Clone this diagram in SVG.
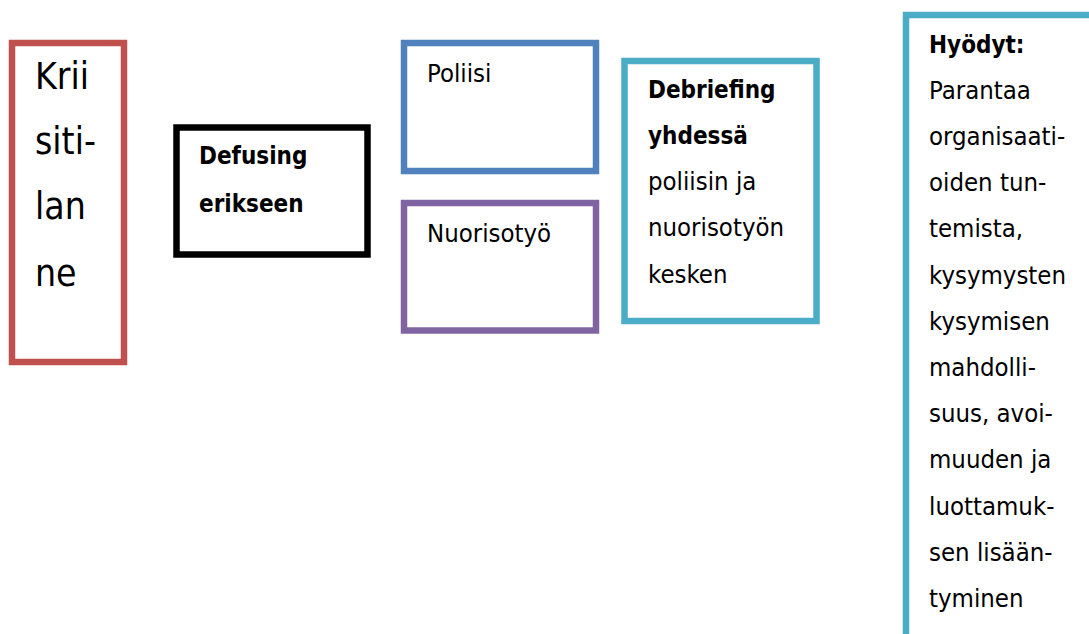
<svg xmlns="http://www.w3.org/2000/svg" width="1089" height="634" viewBox="0 0 1089 634">
<style>
.box{fill:#fff;stroke-width:6.5}
.t{font-family:"DejaVu Sans Condensed","DejaVu Sans",sans-serif;font-stretch:condensed;font-size:25.5px;fill:#000}
.b{font-weight:bold;font-size:24px}
.big{font-size:37px}
</style>
<rect width="1089" height="634" fill="#fff"/>
<g id="kriisitilanne">
<rect class="box" x="12" y="43" width="112" height="319" stroke="#C0504D"/>
<text class="t big" x="35" y="89">Krii</text>
<text class="t big" x="35" y="154">siti-</text>
<text class="t big" x="35" y="219">lan</text>
<text class="t big" x="35" y="286">ne</text>
</g>
<g id="defusing">
<rect class="box" x="176.5" y="127.5" width="191" height="127" stroke="#000" stroke-width="7"/>
<text class="t b" x="199" y="164">Defusing</text>
<text class="t b" x="199" y="212">erikseen</text>
</g>
<g id="poliisi">
<rect class="box" x="404" y="43" width="192" height="128" stroke="#4F81BD"/>
<text class="t" x="427" y="82">Poliisi</text>
</g>
<g id="nuorisotyo">
<rect class="box" x="404" y="203" width="192" height="127.5" stroke="#8064A2"/>
<text class="t" x="427" y="242">Nuorisotyö</text>
</g>
<g id="debriefing">
<rect class="box" x="624.5" y="61" width="192" height="260" stroke="#4BACC6"/>
<text class="t b" x="648" y="98">Debriefing</text>
<text class="t b" x="648" y="144">yhdessä</text>
<text class="t" x="648" y="190">poliisin ja</text>
<text class="t" x="648" y="236">nuorisotyön</text>
<text class="t" x="648" y="283">kesken</text>
</g>
<g id="hyodyt">
<rect class="box" x="906" y="15" width="300" height="700" stroke="#4BACC6"/>
<text class="t b" x="929" y="52.5">Hyödyt:</text>
<text class="t" x="929" y="98.7">Parantaa</text>
<text class="t" x="929" y="144.9">organisaati-</text>
<text class="t" x="929" y="191.1">oiden tun-</text>
<text class="t" x="929" y="237.3">temista,</text>
<text class="t" x="929" y="283.5">kysymysten</text>
<text class="t" x="929" y="329.7">kysymisen</text>
<text class="t" x="929" y="375.9">mahdolli-</text>
<text class="t" x="929" y="422.1">suus, avoi-</text>
<text class="t" x="929" y="468.3">muuden ja</text>
<text class="t" x="929" y="514.5">luottamuk-</text>
<text class="t" x="929" y="560.7">sen lisään-</text>
<text class="t" x="929" y="606.9">tyminen</text>
</g>
<g id="connectors"></g>
</svg>
